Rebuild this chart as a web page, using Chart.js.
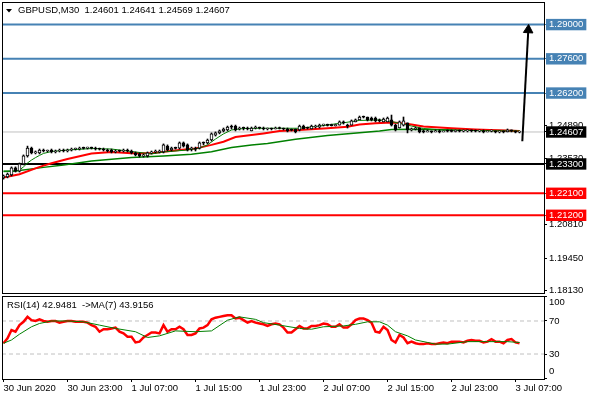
<!DOCTYPE html>
<html>
<head>
<meta charset="utf-8">
<script src="https://cdn.jsdelivr.net/npm/chart.js@4"></script>
<style>
  body { margin: 0; background: #fff; }
  #wrap { position: relative; width: 590px; height: 400px; }
  canvas { position: absolute; left: 0; }
  #price { top: 0; }
  #rsi { top: 295px; }
</style>
</head>
<body>
<div id="wrap">
  <canvas id="price" width="590" height="295"></canvas>
  <canvas id="rsi" width="590" height="105"></canvas>
</div>
<script>
// texts
const symbolTitle = "GBPUSD,M30  1.24601 1.24641 1.24569 1.24607";
const rsiTitle = "RSI(14) 42.9481  ->MA(7) 43.9156";
const timeLabels = ["30 Jun 2020", "30 Jun 23:00", "1 Jul 07:00", "1 Jul 15:00", "1 Jul 23:00",
                    "2 Jul 07:00", "2 Jul 15:00", "2 Jul 23:00", "3 Jul 07:00"];
const timeTickBars = [0, 16, 32, 48, 64, 80, 96, 112, 128];

// M30 candles, bar 0 = 30 Jun 15:00
const opens = [
  1.2273, 1.2277, 1.2285, 1.2314, 1.2301, 1.2330, 1.2363, 1.2395, 1.2375, 1.2375,
  1.2387, 1.2383, 1.2387, 1.2379, 1.2383, 1.2387, 1.2383, 1.2387, 1.2391, 1.2391,
  1.2395, 1.2395, 1.2396, 1.2395, 1.2391, 1.2391, 1.2387, 1.2387, 1.2379, 1.2383,
  1.2383, 1.2387, 1.2383, 1.2375, 1.2371, 1.2363, 1.2363, 1.2375, 1.2379, 1.2379,
  1.2379, 1.2403, 1.2387, 1.2395, 1.2395, 1.2416, 1.2408, 1.2391, 1.2391, 1.2395,
  1.2416, 1.2416, 1.2428, 1.2448, 1.2457, 1.2465, 1.2469, 1.2481, 1.2485, 1.2473,
  1.2477, 1.2477, 1.2465, 1.2477, 1.2481, 1.2477, 1.2473, 1.2474, 1.2473, 1.2477,
  1.2475, 1.2473, 1.2469, 1.2473, 1.2469, 1.2485, 1.2477, 1.2473, 1.2481, 1.2481,
  1.2489, 1.2489, 1.2489, 1.2487, 1.2489, 1.2502, 1.2489, 1.2489, 1.2502, 1.2510,
  1.2522, 1.2522, 1.2518, 1.2518, 1.2510, 1.2502, 1.2502, 1.2510, 1.2489, 1.2477,
  1.2489, 1.2498, 1.2469, 1.2473, 1.2477, 1.2465, 1.2461, 1.2465, 1.2461, 1.2465,
  1.2461, 1.2465, 1.2464, 1.2463, 1.2465, 1.2464, 1.2465, 1.2467, 1.2465, 1.2464,
  1.2465, 1.2461, 1.2464, 1.2465, 1.2461, 1.2462, 1.2461, 1.2469, 1.2465, 1.24601
];
const highs = [
  1.2285, 1.2293, 1.2318, 1.2318, 1.2334, 1.2367, 1.2403, 1.2399, 1.2383, 1.2391,
  1.2391, 1.2387, 1.2391, 1.2387, 1.2391, 1.2391, 1.2391, 1.2395, 1.2395, 1.2399,
  1.2399, 1.2399, 1.2399, 1.2399, 1.2395, 1.2395, 1.2391, 1.2391, 1.2387, 1.2387,
  1.2391, 1.2391, 1.2387, 1.2379, 1.2375, 1.2371, 1.2379, 1.2383, 1.2387, 1.2387,
  1.2412, 1.2408, 1.2399, 1.2399, 1.2420, 1.2420, 1.2412, 1.2399, 1.2399, 1.2420,
  1.2420, 1.2432, 1.2457, 1.2461, 1.2469, 1.2477, 1.2485, 1.2489, 1.2489, 1.2481,
  1.2481, 1.2481, 1.2481, 1.2485, 1.2481, 1.2481, 1.2477, 1.2477, 1.2481, 1.2481,
  1.2477, 1.2477, 1.2473, 1.2473, 1.2489, 1.2489, 1.2481, 1.2489, 1.2489, 1.2493,
  1.2493, 1.2493, 1.2493, 1.2493, 1.2506, 1.2506, 1.2493, 1.2510, 1.2514, 1.2526,
  1.2526, 1.2522, 1.2522, 1.2522, 1.2514, 1.2518, 1.2522, 1.2530, 1.2493, 1.2506,
  1.2522, 1.2498, 1.2477, 1.2481, 1.2477, 1.2469, 1.2469, 1.2465, 1.2469, 1.2469,
  1.2465, 1.2469, 1.2469, 1.2469, 1.2469, 1.2469, 1.2469, 1.2469, 1.2469, 1.2469,
  1.2469, 1.2465, 1.2469, 1.2465, 1.2465, 1.2465, 1.2473, 1.2469, 1.2465, 1.24641
];
const lows = [
  1.2268, 1.2273, 1.2281, 1.2297, 1.2297, 1.2326, 1.2358, 1.2371, 1.2371, 1.2371,
  1.2379, 1.2379, 1.2375, 1.2375, 1.2379, 1.2379, 1.2379, 1.2383, 1.2387, 1.2387,
  1.2391, 1.2391, 1.2391, 1.2387, 1.2387, 1.2383, 1.2379, 1.2375, 1.2375, 1.2379,
  1.2379, 1.2379, 1.2371, 1.2363, 1.2358, 1.2358, 1.2358, 1.2371, 1.2375, 1.2375,
  1.2375, 1.2383, 1.2383, 1.2391, 1.2391, 1.2399, 1.2383, 1.2383, 1.2383, 1.2391,
  1.2408, 1.2412, 1.2424, 1.2444, 1.2453, 1.2461, 1.2465, 1.2473, 1.2465, 1.2469,
  1.2469, 1.2469, 1.2465, 1.2473, 1.2473, 1.2469, 1.2469, 1.2469, 1.2473, 1.2473,
  1.2469, 1.2461, 1.2465, 1.2457, 1.2465, 1.2473, 1.2473, 1.2473, 1.2477, 1.2477,
  1.2485, 1.2485, 1.2485, 1.2485, 1.2489, 1.2493, 1.2477, 1.2489, 1.2502, 1.2510,
  1.2518, 1.2506, 1.2506, 1.2502, 1.2502, 1.2502, 1.2502, 1.2485, 1.2465, 1.2477,
  1.2485, 1.2457, 1.2465, 1.2469, 1.2457, 1.2457, 1.2461, 1.2457, 1.2461, 1.2457,
  1.2461, 1.2461, 1.2461, 1.2461, 1.2461, 1.2461, 1.2461, 1.2461, 1.2461, 1.2461,
  1.2457, 1.2461, 1.2461, 1.2457, 1.2457, 1.2457, 1.2461, 1.2461, 1.2457, 1.24569
];
const closes = [
  1.2281, 1.2289, 1.2314, 1.2301, 1.2330, 1.2363, 1.2395, 1.2375, 1.2379, 1.2387,
  1.2383, 1.2384, 1.2379, 1.2383, 1.2387, 1.2383, 1.2387, 1.2391, 1.2392, 1.2395,
  1.2394, 1.2397, 1.2395, 1.2391, 1.2390, 1.2387, 1.2383, 1.2379, 1.2383, 1.2382,
  1.2387, 1.2383, 1.2375, 1.2367, 1.2363, 1.2367, 1.2375, 1.2379, 1.2383, 1.2383,
  1.2408, 1.2387, 1.2395, 1.2394, 1.2416, 1.2403, 1.2387, 1.2392, 1.2390, 1.2416,
  1.2415, 1.2428, 1.2453, 1.2457, 1.2465, 1.2473, 1.2481, 1.2480, 1.2469, 1.2477,
  1.2476, 1.2473, 1.2477, 1.2481, 1.2477, 1.2473, 1.2474, 1.2473, 1.2477, 1.2475,
  1.2473, 1.2465, 1.2468, 1.2461, 1.2485, 1.2473, 1.2476, 1.2485, 1.2485, 1.2489,
  1.2491, 1.2488, 1.2487, 1.2489, 1.2502, 1.2498, 1.2485, 1.2506, 1.2510, 1.2522,
  1.2521, 1.2510, 1.2510, 1.2506, 1.2506, 1.2514, 1.2518, 1.2489, 1.2469, 1.2502,
  1.2506, 1.2469, 1.2473, 1.2477, 1.2461, 1.2461, 1.2465, 1.2461, 1.2465, 1.2461,
  1.2465, 1.2464, 1.2463, 1.2465, 1.2464, 1.2465, 1.2467, 1.2465, 1.2464, 1.2465,
  1.2461, 1.2464, 1.2465, 1.2461, 1.2462, 1.2461, 1.2469, 1.2465, 1.2460, 1.24607
];

// moving averages (bar index / value)
const maFastBars = [0, 3, 4, 5, 6, 7, 8, 9, 10, 12, 16, 22, 27, 32, 37, 40, 46, 49, 51, 53,
                    55, 57, 60, 65, 74, 79, 84, 89, 94, 97, 99, 102, 105, 110, 120, 129];
const maFast = [1.2301, 1.2301, 1.2305, 1.2318, 1.2334, 1.2346, 1.2356, 1.2365, 1.2373, 1.2381,
                1.2387, 1.2393, 1.2391, 1.2381, 1.2371, 1.2379, 1.2387, 1.2395, 1.2408, 1.2432,
                1.2453, 1.2469, 1.2475, 1.2476, 1.2476, 1.2485, 1.2496, 1.2508, 1.2510, 1.2504,
                1.2496, 1.2485, 1.2475, 1.2469, 1.2466, 1.2465];
const maMidBars = [0, 4, 8, 10, 12, 16, 22, 27, 32, 37, 40, 44, 48, 52, 55, 58, 62, 65, 69, 74,
                   81, 86, 89, 93, 97, 99, 102, 105, 112, 118, 129];
const maMid = [1.2275, 1.2288, 1.2312, 1.2323, 1.2333, 1.2350, 1.2373, 1.2379, 1.2374, 1.2374,
               1.2380, 1.2387, 1.2393, 1.2408, 1.2421, 1.2440, 1.2448, 1.2455, 1.2465, 1.2469,
               1.2476, 1.2482, 1.2491, 1.2496, 1.2500, 1.2498, 1.2491, 1.2483, 1.2476, 1.2471, 1.2465];
const maSlowBars = [0, 3, 10, 15, 19, 22, 32, 40, 47, 52, 57, 62, 66, 73, 81, 89, 94, 97, 102, 113, 129];
const maSlow = [1.2299, 1.2301, 1.2316, 1.2326, 1.2335, 1.2342, 1.2356, 1.2363, 1.2370, 1.2380,
                1.2397, 1.2408, 1.2414, 1.2431, 1.2446, 1.2458, 1.2465, 1.2471, 1.2472, 1.2469, 1.2466];

// horizontal levels and the arrow
const levelPrices = [1.29, 1.276, 1.262, 1.233, 1.221, 1.212];
const axisTicks = [1.2489, 1.2353, 1.2081, 1.1945, 1.1813];
const arrowBars = [129.7, 131.2];
const arrowPrices = [1.2423, 1.2878];

// RSI(14) and its MA(7)
const rsi = [
  43, 49, 59, 57, 65, 69, 75, 71, 70, 72, 70, 69, 70, 70, 68, 69, 70, 70, 69, 69,
  69, 68, 65, 63, 57, 60, 60, 61, 62, 57, 55, 51, 51, 44, 45, 50, 53, 56, 56, 55,
  65, 57, 60, 60, 63, 60, 53, 53, 55, 61, 62, 65, 72, 74, 75, 76, 77, 77, 73, 74,
  71, 68, 70, 68, 67, 66, 64, 66, 67, 66, 62, 56, 56, 60, 64, 61, 61, 64, 64, 65,
  67, 66, 63, 63, 66, 62, 62, 66, 71, 73, 73, 71, 68, 57, 56, 63, 59, 47, 44, 53,
  50, 43, 45, 43, 42, 42, 43, 42, 42, 43, 44, 43, 45, 45, 45, 44, 46, 47, 46, 46,
  44, 45, 48, 45, 45, 43, 47, 48, 44, 42.9481
];
const rsiMaBars = [0, 2, 4, 7, 9, 12, 16, 20, 24, 28, 33, 36, 39, 43, 48, 52, 56, 59, 63, 65,
                   69, 74, 77, 80, 85, 88, 91, 94, 96, 98, 101, 103, 106, 108, 111, 116, 121, 126, 129];
const rsiMa = [43, 47, 54, 63, 67, 70, 70, 69, 65, 61, 57, 50, 52, 58, 57, 58, 71, 75, 72, 68,
               65, 61, 60, 63, 64, 66, 69, 69, 65, 57, 52, 47, 44, 42, 42, 45, 45, 45, 43.9156];
const rsiLevels = [70, 30];
const rsiAxisTicks = [100, 70, 30, 0];

// look
const levelColors = ["#4682b4", "#4682b4", "#4682b4", "#000000", "#ff0000", "#ff0000"];
const FONT = { family: "'Liberation Sans', Arial, sans-serif", size: 9.5 };
const X_MIN = -0.375, X_MAX = 135.125;
const P_MIN = 1.18022, P_MAX = 1.29924;

const lastClose = closes[closes.length - 1];
const span = v => [{ x: X_MIN, y: v }, { x: X_MAX, y: v }];
const pts = (xs, ys) => xs.map((x, k) => ({ x: x, y: ys[k] }));
const bars = closes.map((c, i) => i);

function tagColor(v) {
  if (Math.abs(v - lastClose) < 1e-8) return "#000000";
  const k = levelPrices.findIndex(p => Math.abs(p - v) < 1e-8);
  return k >= 0 ? levelColors[k] : null;
}

// MT4 keeps the panel edges fixed, so drop the label overhang padding
function noPad(s) {
  s.paddingTop = 0; s.paddingBottom = 0; s.paddingLeft = 0; s.paddingRight = 0;
}

const frame = {
  id: "frame",
  afterDraw(chart, args, opts) {
    const { ctx, chartArea: a } = chart;
    ctx.save();
    ctx.strokeStyle = "#000";
    ctx.lineWidth = 1;
    ctx.strokeRect(Math.round(a.left) + 0.5, Math.round(a.top) + 0.5,
                   Math.round(a.right - a.left), Math.round(a.bottom - a.top));
    ctx.fillStyle = "#000";
    ctx.font = FONT.size + "px " + FONT.family;
    ctx.textBaseline = "middle";
    ctx.textAlign = "left";
    if (opts.arrow) {
      ctx.beginPath();
      ctx.moveTo(6, 9); ctx.lineTo(12, 9); ctx.lineTo(9, 12.5);
      ctx.closePath();
      ctx.fill();
    }
    ctx.fillText(opts.text, opts.x, opts.y);
    if (opts.rsiLabels) {
      const s = chart.scales.y;
      const shift = { 100: 6, 0: -7 };
      rsiAxisTicks.forEach(v => {
        ctx.fillText(String(v), a.right + 5, s.getPixelForValue(v) + (shift[v] || 0));
      });
    }
    ctx.restore();
  }
};

new Chart(document.getElementById("price"), {
  type: "bar",
  data: {
    datasets: [
      { type: "line", data: span(lastClose), borderColor: "#c0c0c0", borderWidth: 1, pointRadius: 0, order: 12 },
      ...levelPrices.map((p, k) => ({
        type: "line", data: span(p), borderColor: levelColors[k], borderWidth: 2, pointRadius: 0, order: 10
      })),
      { type: "line", data: pts(maSlowBars, maSlow), borderColor: "#008000", borderWidth: 1.5, pointRadius: 0, order: 6 },
      { type: "line", data: pts(maMidBars, maMid), borderColor: "#ff0000", borderWidth: 2, pointRadius: 0, order: 5 },
      { type: "line", data: pts(maFastBars, maFast), borderColor: "#008000", borderWidth: 1, pointRadius: 0, order: 4 },
      {
        type: "bar", data: bars.map(i => ({ x: i, y: [lows[i], highs[i]] })),
        backgroundColor: "#000", barThickness: 1, grouped: false, order: 3
      },
      {
        type: "bar", data: bars.map(i => ({ x: i, y: [opens[i], closes[i]] })),
        backgroundColor: c => closes[c.dataIndex] >= opens[c.dataIndex] ? "#ffffff" : "#000000",
        borderColor: "#000", borderWidth: 1, borderSkipped: false,
        barThickness: 3, minBarLength: 1, grouped: false, order: 2
      },
      {
        type: "line", data: pts(arrowBars, arrowPrices), borderColor: "#000", borderWidth: 2,
        pointRadius: [0, 5.5], pointStyle: "triangle", pointRotation: 3,
        pointBackgroundColor: "#000", pointBorderColor: "#000", pointBorderWidth: 1, order: 1
      }
    ]
  },
  options: {
    responsive: false, animation: false, devicePixelRatio: 1,
    layout: { autoPadding: false, padding: { left: 2, top: 2, right: 0, bottom: 2 } },
    plugins: {
      legend: { display: false }, tooltip: { enabled: false },
      frame: { text: symbolTitle, x: 18, y: 10.5, arrow: true }
    },
    scales: {
      x: { type: "linear", min: X_MIN, max: X_MAX, display: false, offset: false },
      y: {
        type: "linear", position: "right", min: P_MIN, max: P_MAX,
        afterFit: s => { s.width = 46; noPad(s); },
        afterBuildTicks: s => {
          s.ticks = [...axisTicks, lastClose, ...levelPrices].map(v => ({ value: v }));
        },
        grid: { drawOnChartArea: false, drawTicks: true, tickLength: 3,
                color: c => tagColor(c.tick.value) || "#000" },
        border: { display: false },
        ticks: {
          autoSkip: false, padding: 2, font: FONT,
          color: c => tagColor(c.tick.value) ? "#ffffff" : "#000000",
          showLabelBackdrop: true,
          backdropColor: c => tagColor(c.tick.value) || "rgba(0,0,0,0)",
          backdropPadding: { left: 3, right: 3, top: 0, bottom: 0 },
          callback: v => Number(v).toFixed(5)
        }
      }
    }
  },
  plugins: [frame]
});

new Chart(document.getElementById("rsi"), {
  type: "line",
  data: {
    datasets: [
      ...rsiLevels.map(v => ({
        data: span(v), borderColor: "#c0c0c0", borderWidth: 1, borderDash: [4, 3], pointRadius: 0, order: 5
      })),
      { data: pts(rsiMaBars, rsiMa), borderColor: "#008000", borderWidth: 1, pointRadius: 0, order: 2 },
      { data: pts(bars, rsi), borderColor: "#ff0000", borderWidth: 2.5, pointRadius: 0, order: 3 }
    ]
  },
  options: {
    responsive: false, animation: false, devicePixelRatio: 1,
    layout: { autoPadding: false, padding: { left: 2, top: 1, right: 0, bottom: 0 } },
    plugins: {
      legend: { display: false }, tooltip: { enabled: false },
      frame: { text: rsiTitle, x: 7, y: 10, rsiLabels: true }
    },
    scales: {
      x: {
        type: "linear", position: "bottom", min: X_MIN, max: X_MAX, offset: false,
        afterBuildTicks: s => { s.ticks = timeTickBars.map(v => ({ value: v })); },
        afterFit: s => { s.height = 21; noPad(s); },
        grid: { drawOnChartArea: false, tickLength: 3, color: "#000" },
        border: { display: false },
        ticks: { autoSkip: false, maxRotation: 0, align: "start", padding: 1, font: FONT, color: "#000",
                 callback: (v, k) => timeLabels[k] }
      },
      y: {
        type: "linear", position: "right", min: -0.3, max: 100.3,
        afterFit: s => { s.width = 46; noPad(s); },
        afterBuildTicks: s => { s.ticks = rsiAxisTicks.map(v => ({ value: v })); },
        grid: { drawOnChartArea: false, tickLength: 3, color: "#000" },
        border: { display: false },
        ticks: { display: false }
      }
    }
  },
  plugins: [frame]
});
</script>
</body>
</html>
